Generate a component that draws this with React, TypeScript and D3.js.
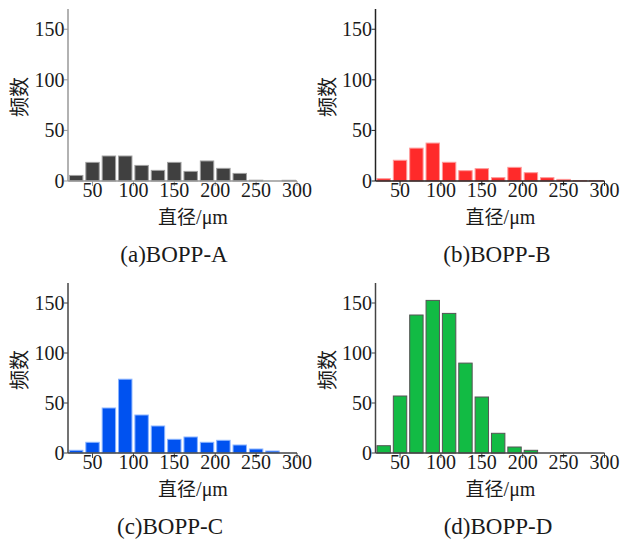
import React from "react";
import * as d3 from "d3";

const binStarts = [20, 40, 60, 80, 100, 120, 140, 160, 180, 200, 220, 240, 260, 280];
const xTicks = [50, 100, 150, 200, 250, 300];
const yTicks = [0, 50, 100, 150];
const seriesA = [5.5, 18.4, 24.7, 24.7, 15.4, 10.5, 18.4, 9.5, 19.8, 12.5, 7.5, 0.8, 0, 0.7];
const seriesB = [2.3, 20.5, 32.5, 37.5, 18.5, 10.2, 12.2, 3.3, 13.5, 8.2, 3.3, 1.6, 0.5, 0.5];
const seriesC = [2.7, 10.7, 45, 73.8, 38, 27, 13.7, 16, 10.7, 12.7, 8, 4, 2, 0];
const seriesD = [7.3, 57, 138, 152.6, 139.6, 89.9, 56, 19.7, 6, 2.7, 0, 0, 0, 0];
const titles = ["(a)BOPP-A", "(b)BOPP-B", "(c)BOPP-C", "(d)BOPP-D"];
const xLabelCjk = "直径";
const xLabelUnit = "/μm";
const yLabel = "频数";

const panels = [
  { data: seriesA, title: titles[0], fill: "#404040", stroke: "#a0a0a0", axis: "#999", left: 68, base: 181, top: 9, titleX: 174 },
  { data: seriesB, title: titles[1], fill: "#ff2a2a", stroke: "#ff9a9a", axis: "#222", left: 375.5, base: 181, top: 9, titleX: 497 },
  { data: seriesC, title: titles[2], fill: "#0052f0", stroke: "#8ab4ff", axis: "#444", left: 68, base: 453, top: 283, titleX: 170 },
  { data: seriesD, title: titles[3], fill: "#12bb44", stroke: "#555", axis: "#444", left: 375.5, base: 453, top: 283, titleX: 498 },
];

const serif = "'Liberation Serif', 'Times New Roman', serif";
const cjk = "'Noto Sans CJK SC', sans-serif";

function Panel({ p }: { p: typeof panels[number] }) {
  const width = 229;
  const x = d3.scaleLinear().domain([20, 300]).range([p.left, p.left + width]);
  const y = d3.scaleLinear().domain([0, 170]).range([p.base, p.top]);
  const bw = (x(40) - x(20)) * 0.82;
  return (
    <g>
      {p.data.map((v, i) => {
        const cx = x(binStarts[i] + 10);
        const h = p.base - y(v);
        if (v <= 0) return null;
        return (
          <rect key={i} x={cx - bw / 2} y={y(v)} width={bw} height={h}
            fill={p.fill} stroke={p.stroke} strokeWidth={1} />
        );
      })}
      <line x1={p.left} x2={p.left} y1={p.top} y2={p.base} stroke={p.axis} strokeWidth={1.5} />
      <line x1={p.left} x2={p.left + width} y1={p.base} y2={p.base} stroke={p.axis} strokeWidth={1.5} />
      {yTicks.map((t) => (
        <g key={t}>
          <line x1={p.left - 4} x2={p.left} y1={y(t)} y2={y(t)} stroke={p.axis} strokeWidth={1} />
          <text x={p.left - 3.5} y={y(t)} dy="0.35em" textAnchor="end" fontFamily={serif} fontSize={20} fill="#1a1a1a">{t}</text>
        </g>
      ))}
      {xTicks.map((t) => (
        <g key={t}>
          <line x1={x(t)} x2={x(t)} y1={p.base} y2={p.base + 5} stroke={p.axis} strokeWidth={1} />
          <text x={x(t)} y={p.base + 16} textAnchor="middle" fontFamily={serif} fontSize={20} fill="#1a1a1a">{t}</text>
        </g>
      ))}
      <text x={p.left + 125} y={p.base + 43} textAnchor="middle" fontSize={19} fill="#1a1a1a">
        <tspan fontFamily={cjk}>{xLabelCjk}</tspan>
        <tspan fontFamily={serif} fontSize={20}>{xLabelUnit}</tspan>
      </text>
      <text transform={`translate(${p.left - 48},${(p.top + p.base) / 2 + 2}) rotate(-90)`} textAnchor="middle"
        dy="0.35em" fontFamily={cjk} fontSize={20} fill="#1a1a1a">{yLabel}</text>
      <text x={p.titleX} y={p.base + 81} textAnchor="middle" fontFamily={serif} fontSize={23} fill="#1a1a1a">{p.title}</text>
    </g>
  );
}

export default function App() {
  return (
    <svg width={621} height={541} style={{ position: "absolute", left: 0, top: 0, background: "#fff" }}>
      <rect width={621} height={541} fill="#fff" />
      {panels.map((p, i) => <Panel key={i} p={p} />)}
    </svg>
  );
}
